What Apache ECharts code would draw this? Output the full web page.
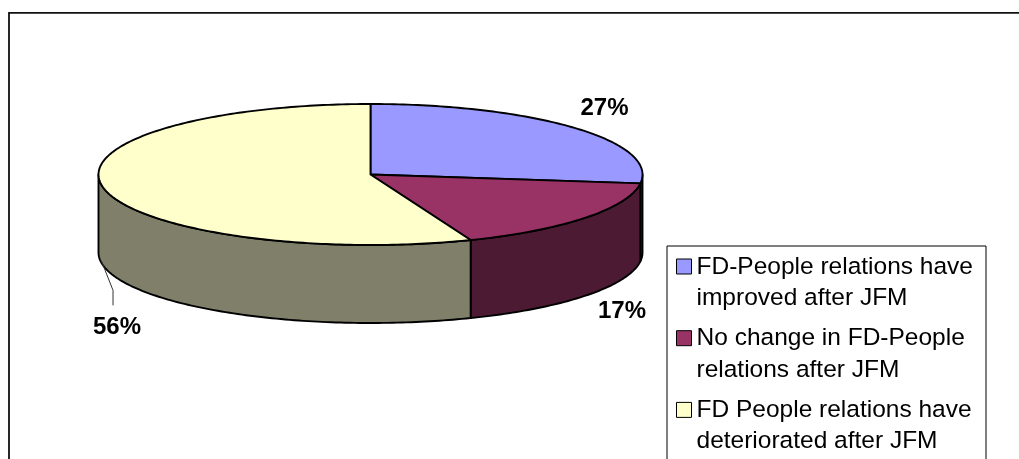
<!DOCTYPE html>
<html>
<head>
<meta charset="utf-8">
<script src="https://cdn.jsdelivr.net/npm/echarts@6/dist/echarts.min.js"></script>
<style>
  html, body { margin: 0; padding: 0; background: #ffffff; }
  #chart { width: 1019px; height: 459px; }
</style>
</head>
<body>
<div id="chart"></div>
<script>
// Survey answers, in percent, drawn as a tilted 3-D pie
const categories = [
  'FD-People relations have\nimproved after JFM',
  'No change in FD-People\nrelations after JFM',
  'FD People relations have\ndeteriorated after JFM'
];
const shares = [27, 17, 56];
const topColors = ['#9999FF', '#993366', '#FFFFCC'];
const sideColors = ['#4D4D80', '#4C1A33', '#80806A'];

// Ellipse of the pie top, and the height of its rim
const PIE = { cx: 370.5, cy: 174.5, rx: 272, ry: 70.5, depth: 78 };
const FONT = '"Liberation Sans", Arial, Helvetica, sans-serif';
const OUTLINE = { stroke: '#000000', lineWidth: 1.9, lineJoin: 'round' };

const total = shares.reduce((a, b) => a + b, 0);

// point on the rim; angle in degrees clockwise from 12 o'clock
function rimPoint(deg, drop) {
  const r = deg * Math.PI / 180;
  return [PIE.cx + PIE.rx * Math.sin(r), PIE.cy - PIE.ry * Math.cos(r) + (drop || 0)];
}
function rimArc(a0, a1, drop) {
  const n = Math.max(2, Math.ceil(Math.abs(a1 - a0)));
  const pts = [];
  for (let i = 0; i <= n; i++) pts.push(rimPoint(a0 + (a1 - a0) * i / n, drop));
  return pts;
}

// nudges from the default label spot; the large slice's label has a leader
const labelMoves = [null, { dx: 5, dy: -3 }, { dx: 53, dy: 56, leader: true }];

function renderSlice(idx) {
  return function (params, api) {
    const v = api.value(0);
    let start = 0;
    for (let i = 0; i < idx; i++) start += shares[i];
    const a0 = start / total * 360;
    const a1 = (start + v) / total * 360;
    const children = [];

    // front wall (only the part facing the viewer)
    const s = Math.max(a0, 90), e = Math.min(a1, 270);
    if (e > s) {
      children.push({
        type: 'polygon', z2: 1,
        shape: { points: rimArc(s, e, 0).concat(rimArc(e, s, PIE.depth)) },
        style: Object.assign({ fill: sideColors[idx] }, OUTLINE)
      });
    }
    // top face
    children.push({
      type: 'polygon', z2: 10,
      shape: { points: [[PIE.cx, PIE.cy]].concat(rimArc(a0, a1, 0)) },
      style: Object.assign({ fill: topColors[idx] }, OUTLINE)
    });

    // percentage label
    const mid = (a0 + a1) / 2;
    const r = mid * Math.PI / 180;
    const front = mid > 90 && mid < 270;
    let lx = PIE.cx + (PIE.rx + 40) * Math.sin(r);
    let ly = PIE.cy - (PIE.ry + 30) * Math.cos(r) + (front ? PIE.depth : 0);
    const mv = labelMoves[idx];
    if (mv) {
      lx += mv.dx; ly += mv.dy;
      if (mv.leader) {
        const anchor = rimPoint(mid, front ? PIE.depth : 0);
        children.push({
          type: 'polyline', z2: 12,
          shape: { points: [[anchor[0] - 2, anchor[1] - 5], [lx - 4, ly - 37], [lx - 4, ly - 22]] },
          style: { stroke: '#333333', lineWidth: 1, fill: null }
        });
      }
    }
    children.push({
      type: 'text', z2: 20,
      style: {
        text: Math.round(v) + '%', x: lx, y: ly,
        align: 'center', verticalAlign: 'middle',
        font: 'bold 24px ' + FONT, fill: '#000000'
      }
    });
    return { type: 'group', children: children };
  };
}

// legend swatch: a 15px square kept at the top of a taller item box,
// so it lines up with the first of the two text lines
const SWATCH = 'path://M0,0L15,0L15,15L0,15Z M0,47';

const chart = echarts.init(document.getElementById('chart'), null, { renderer: 'canvas' });
chart.setOption({
  animation: false,
  backgroundColor: '#ffffff',
  graphic: [
    { type: 'rect', z: 0, shape: { x: 9, y: 12.8, width: 1200, height: 600 },
      style: { fill: null, stroke: '#111111', lineWidth: 1.8 } },
    { type: 'rect', z: 0, shape: { x: 667, y: 246, width: 319, height: 300 },
      style: { fill: null, stroke: '#000000', lineWidth: 1 } }
  ],
  legend: {
    orient: 'vertical',
    left: 676,
    top: 251,
    height: 400,
    padding: 0,
    itemWidth: 15,
    itemHeight: 47,
    itemGap: 8.7,
    selectedMode: false,
    icon: SWATCH,
    data: categories.map((name, i) => ({
      name: name,
      itemStyle: { color: topColors[i], borderColor: '#000000', borderWidth: 1 }
    })),
    textStyle: {
      fontFamily: FONT, fontSize: 24.5, color: '#000000', lineHeight: 31.5
    }
  },
  series: categories.map((name, i) => ({
    type: 'custom',
    name: name,
    coordinateSystem: 'none',
    silent: true,
    itemStyle: { color: topColors[i] },
    data: [[shares[i]]],
    renderItem: renderSlice(i)
  }))
});
</script>
</body>
</html>
